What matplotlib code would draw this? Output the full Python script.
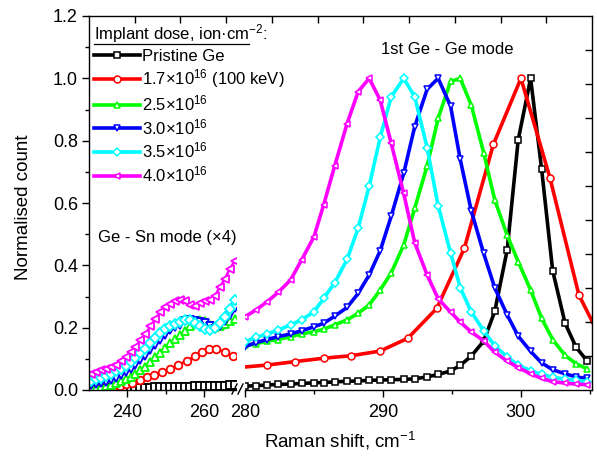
import matplotlib
matplotlib.use("Agg")
import matplotlib.pyplot as plt
from matplotlib.lines import Line2D

plt.rcParams['font.family'] = ['Liberation Sans', 'DejaVu Sans']
plt.rcParams['mathtext.default'] = 'regular'

# Ge - Sn mode (x4), left part of the broken axis
sn_shift = [230.5, 231.8, 233.1, 234.4, 235.7, 237.0, 238.3, 239.6, 240.9, 242.1,
            243.4, 244.7, 246.0, 247.3, 248.6, 249.9, 251.2, 252.5, 253.8, 255.1,
            256.4, 257.6, 258.9, 260.2, 261.5, 262.8, 264.1, 265.4, 266.7, 268.0]
sn_pristine = [0.004, 0.004, 0.005, 0.005, 0.005, 0.006, 0.006, 0.006, 0.007, 0.007,
               0.008, 0.008, 0.008, 0.009, 0.009, 0.010, 0.010, 0.010, 0.011, 0.011,
               0.011, 0.012, 0.012, 0.013, 0.013, 0.013, 0.014, 0.014, 0.015, 0.016]
sn_red_shift = [231.0, 232.8, 234.5, 236.3, 238.0, 239.6, 241.3, 243.3, 245.2, 246.9,
                249.0, 251.2, 253.3, 255.5, 257.6, 259.4, 261.3, 263.2, 265.4, 267.4]
sn_17 = [0.003, 0.005, 0.007, 0.010, 0.014, 0.019, 0.024, 0.033, 0.041, 0.049,
         0.057, 0.068, 0.080, 0.094, 0.108, 0.121, 0.130, 0.132, 0.121, 0.110]
sn_25 = [0.005, 0.007, 0.010, 0.013, 0.017, 0.022, 0.028, 0.035, 0.043, 0.052,
         0.063, 0.075, 0.090, 0.105, 0.120, 0.135, 0.150, 0.163, 0.175, 0.190,
         0.205, 0.218, 0.225, 0.220, 0.210, 0.203, 0.205, 0.212, 0.220, 0.228]
sn_30 = [0.015, 0.018, 0.022, 0.027, 0.033, 0.040, 0.048, 0.058, 0.068, 0.080,
         0.095, 0.110, 0.128, 0.145, 0.162, 0.178, 0.192, 0.203, 0.210, 0.220,
         0.225, 0.222, 0.218, 0.215, 0.205, 0.195, 0.205, 0.222, 0.240, 0.262]
sn_35 = [0.030, 0.035, 0.040, 0.045, 0.052, 0.060, 0.068, 0.078, 0.090, 0.103,
         0.118, 0.133, 0.150, 0.168, 0.182, 0.195, 0.205, 0.212, 0.218, 0.225,
         0.225, 0.215, 0.205, 0.195, 0.193, 0.200, 0.215, 0.235, 0.260, 0.290]
sn_40 = [0.051, 0.057, 0.064, 0.068, 0.073, 0.081, 0.094, 0.105, 0.121, 0.139,
         0.159, 0.180, 0.204, 0.228, 0.250, 0.266, 0.277, 0.285, 0.290, 0.287,
         0.274, 0.268, 0.279, 0.285, 0.290, 0.303, 0.330, 0.357, 0.389, 0.415]

# 1st Ge - Ge mode, right part of the broken axis
ge_shift = [280.0, 280.8, 281.6, 282.4, 283.3, 284.1, 285.0, 285.7, 286.5, 287.4,
            288.2, 289.0, 289.8, 290.6, 291.5, 292.3, 293.2, 294.0, 294.9, 295.6,
            296.4, 297.3, 298.1, 299.0, 299.8, 300.7, 301.5, 302.3, 303.2, 304.0, 304.8]
ge_pristine = [0.012, 0.014, 0.016, 0.018, 0.019, 0.021, 0.023, 0.024, 0.026, 0.028,
               0.029, 0.031, 0.032, 0.033, 0.034, 0.036, 0.042, 0.050, 0.061, 0.079,
               0.109, 0.157, 0.252, 0.449, 0.802, 1.000, 0.708, 0.383, 0.214, 0.137, 0.093]
ge_red_shift = [279.5, 281.6, 283.6, 285.7, 287.7, 289.8, 291.8, 293.9, 295.9, 298.0,
                300.0, 302.1, 304.2, 306.3]
ge_17 = [0.072, 0.080, 0.091, 0.102, 0.110, 0.125, 0.166, 0.262, 0.455, 0.788,
         1.000, 0.681, 0.305, 0.120]
ge_25 = [0.144, 0.148, 0.157, 0.162, 0.171, 0.180, 0.187, 0.195, 0.209, 0.225,
         0.246, 0.273, 0.321, 0.376, 0.465, 0.583, 0.719, 0.872, 0.990, 1.000,
         0.914, 0.761, 0.610, 0.497, 0.412, 0.321, 0.230, 0.162, 0.111, 0.084, 0.068]
ge_30 = [0.139, 0.152, 0.162, 0.171, 0.180, 0.190, 0.203, 0.214, 0.237, 0.265,
         0.310, 0.369, 0.447, 0.558, 0.695, 0.845, 0.965, 1.000, 0.911, 0.740,
         0.575, 0.438, 0.328, 0.241, 0.173, 0.124, 0.087, 0.065, 0.052, 0.042, 0.037]
ge_35 = [0.155, 0.169, 0.180, 0.192, 0.209, 0.225, 0.251, 0.294, 0.344, 0.419,
         0.519, 0.654, 0.811, 0.941, 1.000, 0.941, 0.778, 0.591, 0.440, 0.328,
         0.251, 0.190, 0.142, 0.106, 0.080, 0.062, 0.050, 0.041, 0.035, 0.031, 0.027]
ge_40 = [0.235, 0.257, 0.283, 0.313, 0.353, 0.417, 0.492, 0.594, 0.719, 0.855,
         0.957, 1.000, 0.930, 0.791, 0.631, 0.473, 0.369, 0.293, 0.250, 0.218,
         0.186, 0.158, 0.121, 0.093, 0.072, 0.052, 0.037, 0.027, 0.022, 0.019, 0.017]

labels = ['Pristine Ge', r'1.7×10$^{16}$ (100 keV)', r'2.5×10$^{16}$',
          r'3.0×10$^{16}$', r'3.5×10$^{16}$', r'4.0×10$^{16}$']
colors = ['black', '#ff0000', '#00ff00', '#0000ff', '#00ffff', '#ff00ff']
markers = ['s', 'o', '^', 'v', 'D', '<']

W, H = 597, 458
fig = plt.figure(figsize=(W / 100, H / 100), dpi=100)


def px_box(x0, y0, x1, y1):
    # pixel box (top-left origin) -> figure fraction rect
    return [x0 / W, 1 - y1 / H, (x1 - x0) / W, (y1 - y0) / H]


ax_l = fig.add_axes(px_box(89, 16, 236, 390))
ax_r = fig.add_axes(px_box(245, 16, 592, 390))
ax_f = fig.add_axes(px_box(89, 16, 592, 390))

sn_sets = [(sn_shift, sn_pristine), (sn_red_shift, sn_17), (sn_shift, sn_25),
           (sn_shift, sn_30), (sn_shift, sn_35), (sn_shift, sn_40)]
ge_sets = [(ge_shift, ge_pristine), (ge_red_shift, ge_17), (ge_shift, ge_25),
           (ge_shift, ge_30), (ge_shift, ge_35), (ge_shift, ge_40)]

handles = []
for (xs, ys), (xg, yg), c, m, lab in zip(sn_sets, ge_sets, colors, markers, labels):
    ms = 4.5 if m == 'D' else 5
    ax_l.plot(xs, ys, color=c, lw=1.8, marker=m, ms=ms + 0.5, mfc='white', mec=c,
              mew=1.3)
    h, = ax_r.plot(xg, yg, color=c, lw=2.6, marker=m, ms=ms, mfc='white', mec=c,
                   mew=1.1, label=lab)
    handles.append(h)

# left panel axes
ax_l.set_xlim(230, 268.3)
ax_l.set_ylim(0, 1.2)
ax_l.set_xticks([240, 260])
ax_l.set_xticks([250], minor=True)
ax_l.set_yticks([0.0, 0.2, 0.4, 0.6, 0.8, 1.0, 1.2])
ax_l.set_yticks([0.1, 0.3, 0.5, 0.7, 0.9, 1.1], minor=True)
ax_l.set_yticklabels(['0.0', '0.2', '0.4', '0.6', '0.8', '1.0', '1.2'])
ax_l.spines['top'].set_visible(False)
ax_l.spines['right'].set_visible(False)
ax_l.patch.set_alpha(0)

# right panel axes
ax_r.set_xlim(280, 305.15)
ax_r.set_ylim(0, 1.2)
ax_r.set_xticks([280, 290, 300])
ax_r.set_xticks([285, 295, 305], minor=True)
ax_r.set_yticks([])
for s in ['top', 'right', 'left']:
    ax_r.spines[s].set_visible(False)
ax_r.patch.set_alpha(0)

for ax in (ax_l, ax_r):
    ax.spines['bottom'].set_linewidth(1.0)
    ax.spines['left'].set_linewidth(1.0)
    ax.tick_params(which='major', direction='out', length=5, width=1.0,
                   labelsize=13, pad=3)
    ax.tick_params(axis='x', which='major', pad=5)
    ax.tick_params(which='minor', direction='out', length=3, width=1.0)

# frame: top and right axes with plain inward ticks
ax_f.set_xlim(0, 11)
ax_f.set_ylim(0, 11)
ax_f.patch.set_alpha(0)
ax_f.spines['left'].set_visible(False)
ax_f.spines['bottom'].set_visible(False)
ax_f.spines['top'].set_linewidth(1.0)
ax_f.spines['right'].set_linewidth(1.0)
ax_f.xaxis.tick_top()
ax_f.yaxis.tick_right()
ax_f.set_xticks(range(1, 11))
ax_f.set_yticks(range(1, 11))
ax_f.tick_params(direction='in', length=5, width=1.0, labeltop=False,
                 labelright=False)

# axis break marks
for x0 in (232, 238):
    fig.add_artist(Line2D([x0 / W, (x0 + 5) / W], [1 - 394 / H, 1 - 384 / H],
                          color='black', lw=1.0))

fig.text(340 / W, 1 - 441 / H, r'Raman shift, cm$^{-1}$', fontsize=13.5,
         ha='center', va='center')
fig.text(24 / W, 1 - 207 / H, 'Normalised count', fontsize=13.5, rotation=90,
         ha='center', va='center')

fig.text(447 / W, 1 - 50 / H, '1st Ge - Ge mode', fontsize=12,
         ha='center', va='center')
fig.text(98 / W, 1 - 237 / H, 'Ge - Sn mode (×4)', fontsize=12,
         ha='left', va='center')

title = r'Implant dose, ion·cm$^{-2}$:'
leg = fig.legend(handles, labels, loc='upper left',
                 bbox_to_anchor=(94 / W, 1 - 22 / H), frameon=False,
                 title=title, alignment='left', fontsize=12, title_fontsize=12,
                 handlelength=2.75, handletextpad=0.15, labelspacing=0.22,
                 borderpad=0, borderaxespad=0)

# underline the legend title (up to the superscript)
fig.canvas.draw()
tb = leg.get_title().get_window_extent()
probe = fig.text(0, 0, 'Implant dose, ion·cm', fontsize=12, color='none')
pw = probe.get_window_extent().width
probe.remove()
uy = tb.y0 + 1
fig.add_artist(Line2D([tb.x0 / W, (tb.x0 + pw) / W], [uy / H, uy / H],
                      color='black', lw=0.9))

fig.savefig('out.png', dpi=100)
